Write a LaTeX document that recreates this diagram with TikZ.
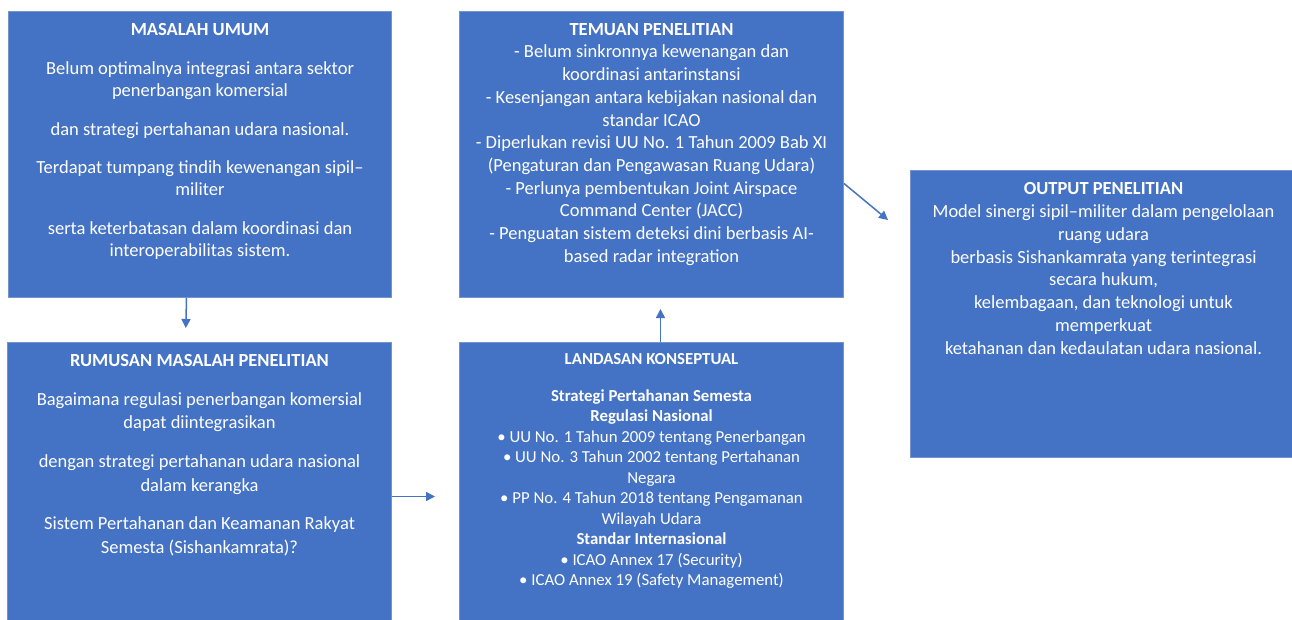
\documentclass[tikz,border=0pt]{standalone}
\usepackage{fontspec}
\setmainfont{Carlito}
\usepackage{xcolor}
\usepackage{tikz}
\usetikzlibrary{positioning}
\usetikzlibrary{arrows.meta}

\definecolor{boxblue}{RGB}{68,114,196}
\definecolor{boxline}{RGB}{120,146,204}

\begin{document}
\begin{tikzpicture}[
	x=1pt,y=-1pt,
	font=\fontsize{18.5}{22}\selectfont
]
\tikzset{
    bluebox/.style = {rectangle, draw=boxline, line width=1pt, fill=boxblue, anchor=north west, inner sep=0pt},
    boxtext/.style = {align=center, text=white, inner sep=0pt},
    flowarrow/.style = {draw=boxblue, line width=1.5pt, -{Triangle[length=9pt,width=9pt]}}
}
\useasboundingbox (0,0) rectangle (1292,619);

\node[bluebox,minimum width=383,minimum height=286] (masalah) at (8,11) {};
\node[bluebox,minimum width=384,minimum height=286] (rumusan) at (7,342) {};
\node[bluebox,minimum width=384,minimum height=286] (landasan) at (459,342) {};
\node[bluebox,minimum width=384,minimum height=286] (temuan) at (459,11) {};
\node[bluebox,minimum width=386,minimum height=287] (output) at (910,170) {};

\node[boxtext,below=12pt of masalah.north] (masalahtxt) {\textbf{MASALAH UMUM}\\[17pt]
Belum optimalnya integrasi antara sektor\\
penerbangan komersial\\[17pt]
dan strategi pertahanan udara nasional.\\[16pt]
Terdapat tumpang tindih kewenangan sipil--\\
militer\\[17pt]
serta keterbatasan dalam koordinasi dan\\
interoperabilitas sistem.};

\node[boxtext,below=12pt of rumusan.north,font=\fontsize{18.5}{23.5}\selectfont] (rumusantxt) {\textbf{RUMUSAN MASALAH PENELITIAN}\\[15.5pt]
Bagaimana regulasi penerbangan komersial\\
dapat diintegrasikan\\[15.5pt]
dengan strategi pertahanan udara nasional\\
dalam kerangka\\[15pt]
Sistem Pertahanan dan Keamanan Rakyat\\
Semesta (Sishankamrata)?};

\node[boxtext,below=11pt of landasan.north,font=\fontsize{16.8}{20.5}\selectfont] (landasantxt) {\textbf{LANDASAN KONSEPTUAL}\\[16.5pt]
\textbf{Strategi Pertahanan Semesta}\\
\textbf{Regulasi Nasional}\\
• UU No. 1 Tahun 2009 tentang Penerbangan\\
• UU No. 3 Tahun 2002 tentang Pertahanan\\
Negara\\
• PP No. 4 Tahun 2018 tentang Pengamanan\\
Wilayah Udara\\
\textbf{Standar Internasional}\\
• ICAO Annex 17 (Security)\\
• ICAO Annex 19 (Safety Management)};

\node[boxtext,below=12pt of temuan.north,font=\fontsize{18.5}{22.7}\selectfont] (temuantxt) {\textbf{TEMUAN PENELITIAN}\\
- Belum sinkronnya kewenangan dan\\
koordinasi antarinstansi\\
- Kesenjangan antara kebijakan nasional dan\\
standar ICAO\\
- Diperlukan revisi UU No. 1 Tahun 2009 Bab XI\\
(Pengaturan dan Pengawasan Ruang Udara)\\
- Perlunya pembentukan Joint Airspace\\
Command Center (JACC)\\
- Penguatan sistem deteksi dini berbasis AI-\\
based radar integration};

\node[boxtext,below=12pt of output.north,font=\fontsize{18.5}{22.9}\selectfont] (outputtxt) {\textbf{OUTPUT PENELITIAN}\\
Model sinergi sipil--militer dalam pengelolaan\\
ruang udara\\
berbasis Sishankamrata yang terintegrasi\\
secara hukum,\\
kelembagaan, dan teknologi untuk\\
memperkuat\\
ketahanan dan kedaulatan udara nasional.};

\draw[flowarrow,shorten >=14pt] ([xshift=-13.5pt]masalah.south) -- ([xshift=-14pt]rumusan.north);
\draw[flowarrow,shorten >=24pt] ([yshift=-11pt]rumusan.east) -- ([yshift=-11pt]landasan.west);
\draw[flowarrow,shorten >=11pt] ([xshift=9pt]landasan.north) -- ([xshift=9pt]temuan.south);
\draw[flowarrow] ([yshift=-29pt]temuan.east) -- ([xshift=-22pt,yshift=-50pt]output.north west);
\end{tikzpicture}
\end{document}
